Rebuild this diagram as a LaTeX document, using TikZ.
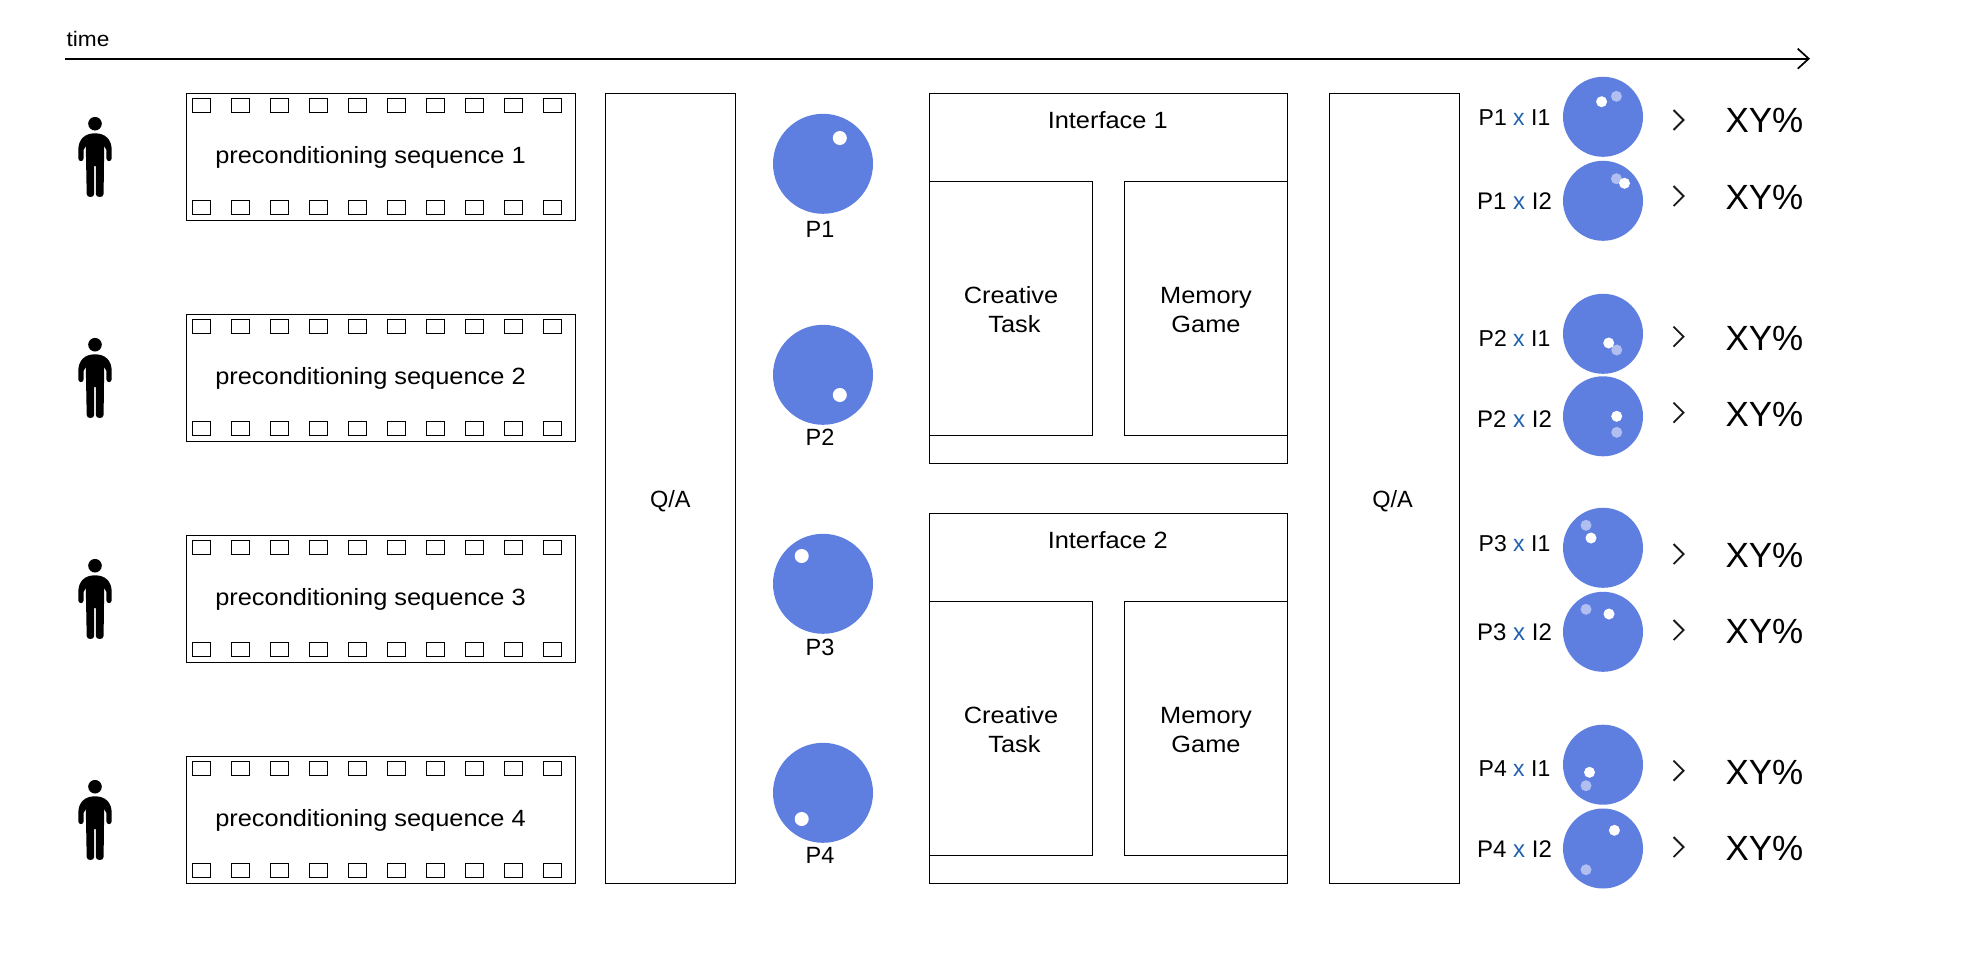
\documentclass[tikz,border=0pt]{standalone}
\usepackage{fontspec}
\setmainfont[FakeStretch=1.08]{Liberation Sans}
\newfontfamily\plainfont{Liberation Sans}
\usetikzlibrary{arrows.meta}
\definecolor{ballblue}{HTML}{5F7FE0}
\definecolor{ballfaint}{HTML}{B0BFF0}
\definecolor{xblue}{HTML}{1F62B0}
\newcommand{\fsz}[1]{\fontsize{#1}{29}\selectfont}
\tikzset{
  x=1pt,y=-1pt,
  box/.style={draw=black,line width=1.1pt,fill=white,inner sep=0pt,outer sep=0pt,anchor=north west},
  hole/.style={draw=black,line width=1pt,fill=white,inner sep=0pt,outer sep=0pt,minimum width=18pt,minimum height=14pt,anchor=north west},
  lab/.style={inner sep=0pt,outer sep=0pt,anchor=base,font=\fsz{23.5},text=black},
  plab/.style={inner sep=0pt,outer sep=0pt,anchor=base,font=\plainfont\fsz{23.5},text=black},
  two/.style={inner sep=0pt,outer sep=0pt,anchor=center,align=center,font=\fsz{23.5},text=black},
  ball/.style={circle,fill=ballblue,inner sep=0pt,outer sep=0pt},
  bigball/.style={ball,minimum size=100pt},
  smallball/.style={ball,minimum size=80pt},
  dotw/.style={circle,fill=white,inner sep=0pt,outer sep=0pt,minimum size=14pt},
  dots/.style={circle,fill=white,inner sep=0pt,outer sep=0pt,minimum size=11pt},
  dotf/.style={circle,fill=ballfaint,inner sep=0pt,outer sep=0pt,minimum size=11pt},
  pct/.style={inner sep=0pt,outer sep=0pt,anchor=base,font=\plainfont\fsz{35},text=black},
  chev/.style={draw=black!90,line width=1.8pt,line join=miter},
  timeline/.style={draw=black,line width=1.9pt,-{Straight Barb[length=11pt,width=20pt,line width=1.7pt]}},
}
\begin{document}
\begin{tikzpicture}
\useasboundingbox (0,0) rectangle (1968,964);
\fill[white] (0,0) rectangle (1968,964);
% time axis
\coordinate (tstart) at (65,58.7);
\coordinate (tend) at (1810,58.7);
\draw[timeline] (tstart) -- (tend);
\node[lab,font=\fsz{21}] (timelabel) at (88,46.7) {time};
% film strips and persons
\foreach \i/\y in {1/93.5,2/314.5,3/535.5,4/756.5}{
  \begin{scope}[shift={(0,\y-93.5)}]
    \fill[black] (95,123.7) circle[radius=6.8];
    \fill[black] (95,133.3) .. controls (85,133.3) and (78.3,139) .. (78.3,150)
      -- (78.3,158.3) .. controls (78.3,162) and (83.6,162) .. (83.6,158.3)
      -- (83.6,150) -- (85.8,146) -- (86.7,194) .. controls (86.7,198) and (94.2,198) .. (94.2,194)
      -- (94.2,166) -- (95.8,166) -- (95.8,194) .. controls (95.8,198) and (103.6,198) .. (103.6,194)
      -- (104.2,146) -- (106.4,150) -- (106.4,158.3) .. controls (106.4,162) and (111.7,162) .. (111.7,158.3)
      -- (111.7,150) .. controls (111.7,139) and (105,133.3) .. (95,133.3) -- cycle;
    \node[box,minimum width=389pt,minimum height=127pt] (film\i) at (186.5,93.5) {};
    \foreach \k in {0,...,9}{
      \node[hole] (top\i\k) at ({round(192+38.96*\k)+0.5},98.5) {};
      \node[hole] (bot\i\k) at ({round(192+38.96*\k)+0.5},200.5) {};
    }
    \node[lab] (filmlabel\i) at (370.5,163) {preconditioning sequence \i};
  \end{scope}
}
% Q/A columns
\node[box,minimum width=130pt,minimum height=790pt] (qa1) at (605.5,93.5) {};
\node[plab] (qa1l) at (670.3,507) {Q/A};
\node[box,minimum width=130pt,minimum height=790pt] (qa2) at (1329.5,93.5) {};
\node[plab] (qa2l) at (1392.5,507) {Q/A};
% priming circles
\foreach \i/\y/\dx/\dy/\ly in {1/163.8/839.8/138/237.2,2/374.8/839.8/395/445.5,3/583.8/801.7/556/655,4/792.8/801.7/819/863.5}{
  \node[bigball] (p\i) at (823,\y) {};
  \node[dotw] (pd\i) at (\dx,\dy) {};
  \node[plab] (pl\i) at (820,\ly) {P\i};
}
% interfaces
\foreach \i/\off in {1/0,2/420}{
  \begin{scope}[shift={(0,\off)}]
    \node[box,minimum width=358pt,minimum height=370pt] (if\i) at (929.5,93.5) {};
    \node[box,minimum width=163pt,minimum height=254pt] (ct\i) at (929.5,181.5) {};
    \node[box,minimum width=163pt,minimum height=254pt] (mg\i) at (1124.5,181.5) {};
    \node[lab] (ifl\i) at (1107.7,128.2) {Interface \i};
    \node[two] (ctl\i) at (1011,309.7) {Creative\\\hspace*{7pt}Task};
    \node[two] (mgl\i) at (1206,309.7) {Memory\\Game};
  \end{scope}
}
% results
\foreach \n/\a/\b/\s/\lb/\cy/\wx/\wy/\fx/\fy/\chy/\py in {
 a/1/1/23/125/116.8/1601.6/101.7/1616.4/96.3/120/132.7,
 b/1/2/24/209/200.8/1624.5/183.3/1616.4/178.7/196/209,
 c/2/1/23/346/333.8/1608.7/343/1616.7/350/336.7/350,
 d/2/2/24/427/416.3/1616.7/416.3/1616.7/432.3/412.7/426,
 e/3/1/23/551.3/547.8/1591/538/1586/525.3/554/567,
 f/3/2/24/640.7/631.8/1609/614/1586/609.3/630/643,
 g/4/1/23/776/764.7/1589.5/772.3/1586/785.7/770.7/784,
 h/4/2/24/857/848.5/1614.4/830.3/1586/869.7/847/860.3}{
  \node[plab,font=\plainfont\fsz{\s}] (rl\n) at (1514.5,\lb) {P\a{} \textcolor{xblue}{x} I\b};
  \node[smallball] (rb\n) at (1603,\cy) {};
  \node[dotf] (rf\n) at (\fx,\fy) {};
  \node[dots] (rw\n) at (\wx,\wy) {};
  \draw[chev] (1673.5,\chy-10) -- (1683.5,\chy) -- (1673.5,\chy+10);
  \node[pct] (rp\n) at (1764.4,\py) {XY\%};
}
\end{tikzpicture}
\end{document}
